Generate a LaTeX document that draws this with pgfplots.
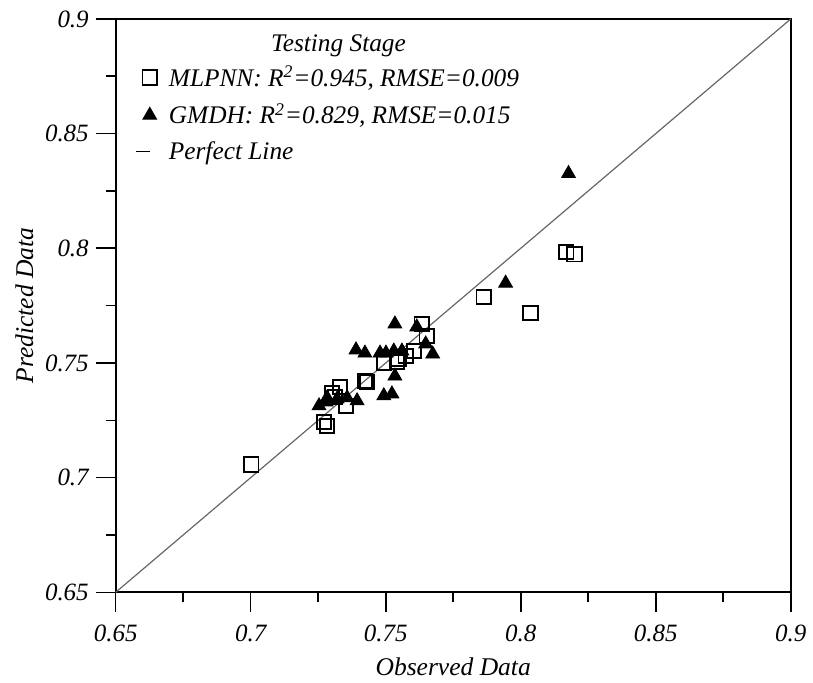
\documentclass[border=0pt]{standalone}
\usepackage{fontspec}
\setmainfont{Liberation Serif}
\usepackage{pgfplots}
\pgfplotsset{compat=1.18}
\usetikzlibrary{calc}
\begin{document}
\begin{tikzpicture}
\begin{axis}[
  scale only axis,
  width=338.5pt, height=287.5pt,
  xmin=0.65, xmax=0.9, ymin=0.65, ymax=0.9,
  xtick={0.65,0.7,0.75,0.8,0.85,0.9},
  ytick={0.65,0.7,0.75,0.8,0.85,0.9},
  xticklabels={0.65,0.7,0.75,0.8,0.85,0.9},
  yticklabels={0.65,0.7,0.75,0.8,0.85,0.9},
  minor tick num=1,
  tick align=outside,
  major tick length=10pt,
  minor tick length=5pt,
  tick style={black, line width=0.8pt},
  axis line style={black, line width=1pt},
  tick label style={font=\fontsize{12.5}{14}\selectfont\itshape},
  xticklabel style={yshift=-3pt},
  /pgf/number format/assume math mode=true,
  xtick pos=bottom, ytick pos=left,
  xlabel={Observed Data}, ylabel={Predicted Data},
  label style={font=\fontsize{12.8}{15}\selectfont\itshape},
  xlabel style={yshift=-1pt},
  ylabel style={yshift=-1pt},
  legend style={at={(axis description cs:0.028,0.926)}, anchor=north west,
    draw=none, fill=none, font=\fontsize{12.7}{15}\selectfont\itshape,
    row sep=3.2pt, inner sep=0pt,
    /tikz/every odd column/.append style={column sep=4pt}},
  legend cell align=left,
]
\addplot[only marks, mark=square, mark size=3.6pt, mark options={black, line width=0.9pt, fill=none}] coordinates {
(0.7002,0.7057) (0.7272,0.7243) (0.7283,0.7226) (0.7331,0.7396) (0.7301,0.7370)
(0.7313,0.7352) (0.7353,0.7313) (0.7423,0.7422) (0.7430,0.7417) (0.7493,0.7500)
(0.7541,0.7504) (0.7548,0.7517) (0.7574,0.7530) (0.7604,0.7552) (0.7633,0.7670)
(0.7652,0.7617) (0.7863,0.7787) (0.8036,0.7717) (0.8169,0.7983) (0.8199,0.7974)
};
\addlegendentry{MLPNN: R\textsuperscript{2}=0.945, RMSE=0.009}
\addplot[only marks, mark=triangle*, mark size=4pt, mark options={black, fill=black}] coordinates {
(0.8177,0.8326) (0.7944,0.7848) (0.7534,0.7670) (0.7390,0.7557) (0.7423,0.7543)
(0.7479,0.7543) (0.7501,0.7543) (0.7530,0.7552) (0.7560,0.7552) (0.7615,0.7657)
(0.7648,0.7583) (0.7674,0.7539) (0.7534,0.7443) (0.7493,0.7357) (0.7523,0.7365)
(0.7394,0.7335) (0.7357,0.7348) (0.7283,0.7348) (0.7253,0.7313) (0.7279,0.7330)
(0.7320,0.7343)
};
\addlegendentry{GMDH: R\textsuperscript{2}=0.829, RMSE=0.015}
\addplot[gray!80!black, line width=0.6pt, legend image code/.code={\draw[black,line width=0.6pt] (0.05cm,0cm) -- (0.3cm,0cm);}] coordinates {(0.65,0.65) (0.9,0.9)};
\addlegendentry{Perfect Line}
\node[font=\fontsize{12.7}{15}\selectfont\itshape] at (axis description cs:0.33,0.953) {Testing Stage};
\end{axis}
\path ($(current axis.south west)+(-58pt,-44pt)$) rectangle ($(current axis.north east)+(10pt,9.5pt)$);
\end{tikzpicture}
\end{document}
